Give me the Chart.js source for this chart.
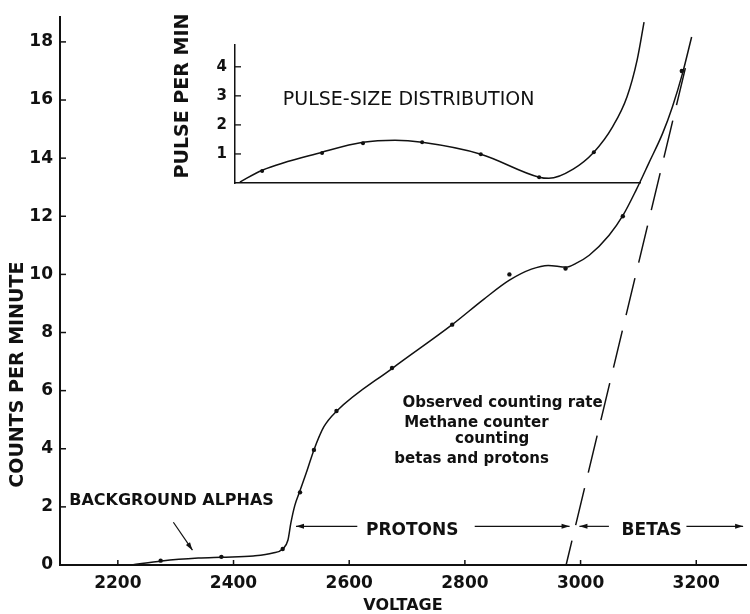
<!DOCTYPE html>
<html><head><meta charset="utf-8">
<script src="https://cdn.jsdelivr.net/npm/chart.js@4"></script>
<style>
html,body{margin:0;padding:0;background:#fff;}
#wrap{position:relative;width:750px;height:614px;overflow:hidden;background:#fff;}
#main{position:absolute;left:0;top:0;}
#inset{position:absolute;left:160px;top:0;}
</style></head><body>
<div id="wrap"><canvas id="main" width="750" height="614"></canvas><canvas id="inset" width="500" height="200"></canvas></div>
<script>
// ---- data ----
const voltageTicks = [2200, 2400, 2600, 2800, 3000, 3200];
const countTicks = [0, 2, 4, 6, 8, 10, 12, 14, 16, 18];
const pulseTicks = [1, 2, 3, 4];

// measured counting rate (dots)
const measuredVoltage = [2274, 2379, 2485, 2515, 2539, 2578, 2674, 2778, 2877, 2974, 3073, 3175];
const measuredCounts  = [0.15, 0.28, 0.55, 2.5, 3.96, 5.3, 6.78, 8.27, 10.0, 10.2, 12.0, 17.0];

// hand-drawn smooth curve through the observations
const curveVoltage = [2224, 2276, 2339, 2379, 2434, 2468, 2485, 2494, 2499, 2506, 2515, 2527, 2539, 2556, 2578, 2674, 2778, 2833, 2877, 2915, 2944, 2975, 2992, 3015, 3049, 3073, 3096, 3118, 3142, 3159, 3176, 3192];
const curveCounts  = [0, 0.14, 0.24, 0.27, 0.31, 0.41, 0.55, 0.85, 1.43, 2.05, 2.56, 3.24, 3.96, 4.75, 5.29, 6.76, 8.27, 9.15, 9.80, 10.18, 10.31, 10.25, 10.38, 10.66, 11.34, 12.02, 12.9, 13.83, 14.86, 15.78, 16.9, 18.17];

// betas (dashed extrapolation)
const betaVoltage = [2975, 3186];
const betaCounts  = [0, 17.5];

// inset: pulse-size distribution
const pulseSizeDots  = [6.7, 21.5, 31.6, 46.2, 60.7, 75.1, 88.6];
const pulseRateDots  = [0.41, 1.03, 1.37, 1.4, 0.99, 0.2, 1.06];
const pulseSizeCurve = [1.2, 6.7, 21.5, 31.6, 39.5, 46.2, 60.7, 75.1, 77.5, 83.5, 88.6, 93.3, 96.8, 99.3, 101];
const pulseRateCurve = [0.03, 0.44, 1.06, 1.4, 1.47, 1.4, 0.99, 0.2, 0.16, 0.48, 1.06, 1.95, 2.97, 4.24, 5.54];

// ---- helpers ----
const FAM = '"DejaVu Sans", sans-serif';
const INK = '#111';
const zip = (xs, ys) => xs.map((v, i) => ({x: v, y: ys[i]}));
const plain = v => String(v);

function arrowHead(ctx, x1, y1, x2, y2, len, half) {
  const a = Math.atan2(y2 - y1, x2 - x1);
  ctx.beginPath();
  ctx.moveTo(x2, y2);
  ctx.lineTo(x2 - len * Math.cos(a) + half * Math.sin(a), y2 - len * Math.sin(a) - half * Math.cos(a));
  ctx.lineTo(x2 - len * Math.cos(a) - half * Math.sin(a), y2 - len * Math.sin(a) + half * Math.cos(a));
  ctx.closePath();
  ctx.fill();
}
function arrow(ctx, x1, y1, x2, y2) {
  ctx.beginPath(); ctx.moveTo(x1, y1); ctx.lineTo(x2, y2); ctx.stroke();
  arrowHead(ctx, x1, y1, x2, y2, 8, 2.5);
}

const mainPlugin = {
  id: 'mainDecor',
  beforeDraw(c) {
    const ctx = c.ctx; ctx.save(); ctx.fillStyle = '#fff'; ctx.fillRect(0, 0, c.width, c.height); ctx.restore();
  },
  afterDraw(c) {
    const {ctx, scales: {x, y}} = c;
    const X = v => x.getPixelForValue(v), Y = v => y.getPixelForValue(v);
    ctx.save();
    ctx.strokeStyle = INK; ctx.fillStyle = INK; ctx.lineWidth = 1.5;
    // inward tick marks
    voltageTicks.forEach(v => { ctx.beginPath(); ctx.moveTo(X(v), y.bottom); ctx.lineTo(X(v), y.bottom - 5); ctx.stroke(); });
    countTicks.forEach(v => { if (v === 0) return; ctx.beginPath(); ctx.moveTo(x.left, Y(v)); ctx.lineTo(x.left + 6, Y(v)); ctx.stroke(); });

    // y-axis title
    ctx.save();
    ctx.translate(18, Y(6.55));
    ctx.rotate(-Math.PI / 2);
    ctx.font = 'bold 19px ' + FAM; ctx.textAlign = 'center'; ctx.textBaseline = 'middle';
    ctx.fillText('COUNTS PER MINUTE', 0, 0);
    ctx.restore();

    // background alphas
    ctx.font = 'bold 16px ' + FAM; ctx.textAlign = 'left'; ctx.textBaseline = 'middle';
    ctx.fillText('BACKGROUND ALPHAS', X(2116), Y(2.22));
    ctx.lineWidth = 1.2;
    arrow(ctx, X(2296), Y(1.47), X(2329), Y(0.51));

    // protons / betas
    ctx.font = 'bold 17px ' + FAM; ctx.textAlign = 'center';
    ctx.fillText('PROTONS', X(2709), Y(1.2));
    ctx.fillText('BETAS', X(3123), Y(1.2));
    const ry = Y(1.33);
    arrow(ctx, X(2614), ry, X(2508), ry);
    arrow(ctx, X(2817), ry, X(2981), ry);
    arrow(ctx, X(3049), ry, X(2998), ry);
    arrow(ctx, X(3183), ry, X(3281), ry);

    // observed counting rate note
    ctx.font = 'bold 15px ' + FAM; ctx.textAlign = 'left';
    ctx.fillText('Observed counting rate', X(2692), Y(5.57));
    ctx.fillText('Methane counter', X(2695), Y(4.88));
    ctx.fillText('counting', X(2783), Y(4.34));
    ctx.fillText('betas and protons', X(2678), Y(3.65));
    ctx.restore();
  }
};

new Chart(document.getElementById('main'), {
  type: 'scatter',
  data: {
    datasets: [
      {data: zip(curveVoltage, curveCounts), showLine: true, borderColor: INK, borderWidth: 1.5, pointRadius: 0, cubicInterpolationMode: 'monotone', order: 2},
      {data: zip(betaVoltage, betaCounts), showLine: true, borderColor: INK, borderWidth: 1.5, borderDash: [38, 16], borderDashOffset: 13, pointRadius: 0, order: 3},
      {data: zip(measuredVoltage, measuredCounts), showLine: false, pointRadius: 2.2, pointBackgroundColor: INK, pointBorderWidth: 0, order: 1}
    ]
  },
  options: {
    responsive: false, animation: false, devicePixelRatio: 1,
    layout: {padding: {top: 14, right: 0, left: 0, bottom: 0}},
    plugins: {legend: {display: false}, tooltip: {enabled: false}},
    scales: {
      x: {
        type: 'linear', min: 2100, max: 3286,
        afterBuildTicks: s => { s.ticks = voltageTicks.map(v => ({value: v})); },
        afterFit: s => { s.height = 49; },
        grid: {display: false, drawTicks: false},
        border: {display: true, color: INK, width: 2},
        ticks: {color: INK, padding: 8, maxRotation: 0, autoSkip: false, callback: plain, font: {family: FAM, weight: 'bold', size: 17}},
        title: {display: true, text: 'VOLTAGE', color: INK, padding: {top: 0, bottom: 0}, font: {family: FAM, weight: 'bold', size: 16, lineHeight: 1}}
      },
      y: {
        type: 'linear', min: 0, max: 18.85,
        afterBuildTicks: s => { s.ticks = countTicks.map(v => ({value: v})); },
        afterFit: s => { s.width = 60; },
        grid: {display: false, drawTicks: false},
        border: {display: true, color: INK, width: 2},
        ticks: {color: INK, padding: 7, callback: plain, font: {family: FAM, weight: 'bold', size: 17}}
      }
    }
  },
  plugins: [mainPlugin]
});

const insetPlugin = {
  id: 'insetDecor',
  afterDraw(c) {
    const {ctx, scales: {x, y}} = c;
    ctx.save();
    ctx.strokeStyle = INK; ctx.fillStyle = INK; ctx.lineWidth = 1.3;
    pulseTicks.forEach(v => { const py = y.getPixelForValue(v); ctx.beginPath(); ctx.moveTo(x.left, py); ctx.lineTo(x.left + 6, py); ctx.stroke(); });
    ctx.save();
    ctx.translate(23, 96);
    ctx.rotate(-Math.PI / 2);
    ctx.font = 'bold 19px ' + FAM; ctx.textAlign = 'center'; ctx.textBaseline = 'middle';
    ctx.fillText('PULSE PER MIN', 0, 0);
    ctx.restore();
    ctx.font = '19px ' + FAM; ctx.textAlign = 'left'; ctx.textBaseline = 'middle';
    ctx.fillText('PULSE-SIZE DISTRIBUTION', x.getPixelForValue(11.8), y.getPixelForValue(2.86));
    ctx.restore();
  }
};

new Chart(document.getElementById('inset'), {
  type: 'scatter',
  data: {
    datasets: [
      {data: zip(pulseSizeCurve, pulseRateCurve), showLine: true, borderColor: INK, borderWidth: 1.5, pointRadius: 0, cubicInterpolationMode: 'monotone', clip: false, order: 2},
      {data: zip(pulseSizeDots, pulseRateDots), showLine: false, pointRadius: 2, pointBackgroundColor: INK, pointBorderWidth: 0, order: 1}
    ]
  },
  options: {
    responsive: false, animation: false, devicePixelRatio: 1,
    layout: {padding: {top: 45, right: 20, left: 0, bottom: 0}},
    plugins: {legend: {display: false}, tooltip: {enabled: false}},
    scales: {
      x: {
        type: 'linear', min: 0, max: 100,
        afterFit: s => { s.height = 16; },
        grid: {display: false, drawTicks: false},
        border: {display: true, color: INK, width: 1.5},
        ticks: {display: false}
      },
      y: {
        type: 'linear', min: 0, max: 4.75,
        afterBuildTicks: s => { s.ticks = pulseTicks.map(v => ({value: v})); },
        afterFit: s => { s.width = 75; },
        grid: {display: false, drawTicks: false},
        border: {display: true, color: INK, width: 1.5},
        ticks: {color: INK, padding: 8, font: {family: FAM, weight: 'bold', size: 15}}
      }
    }
  },
  plugins: [insetPlugin]
});
</script>
</body></html>
